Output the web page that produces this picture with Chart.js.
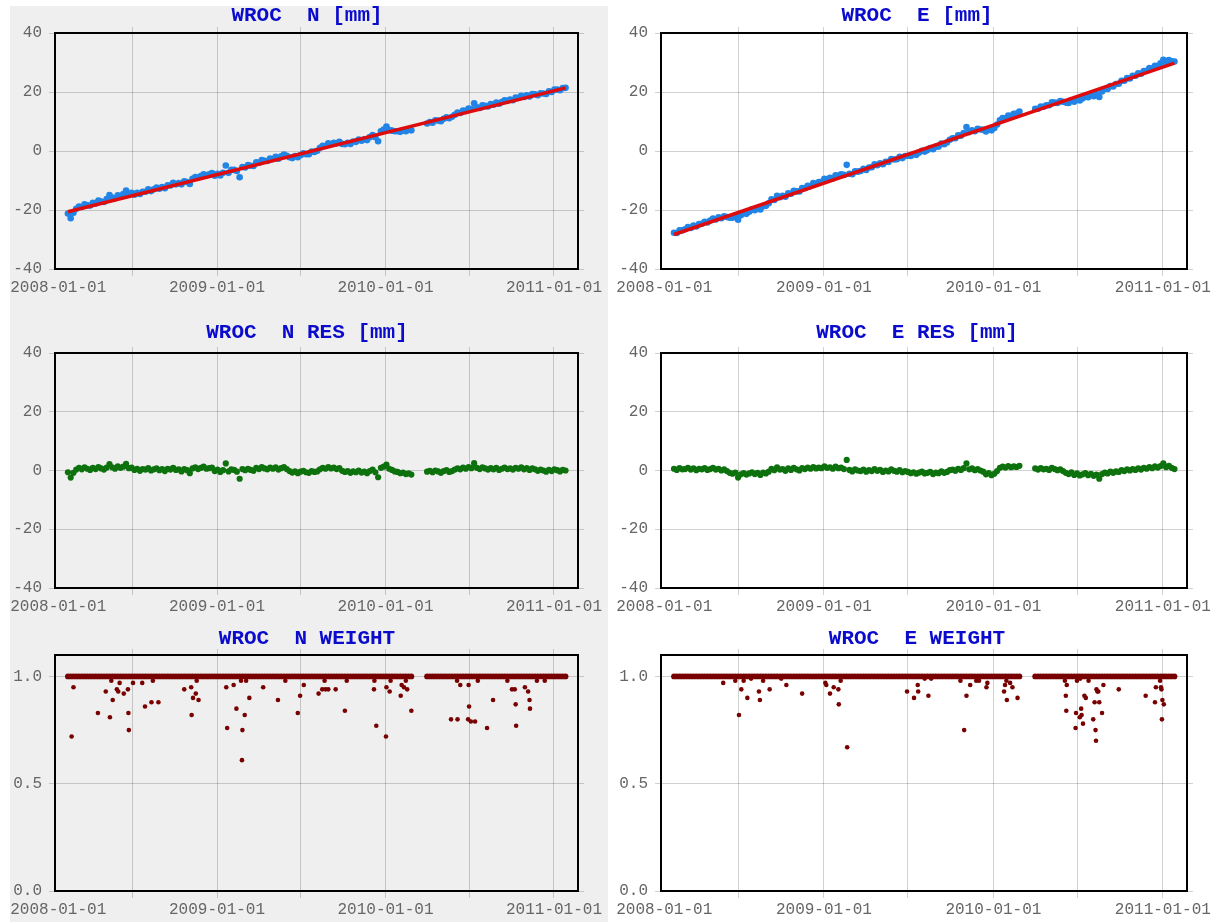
<!DOCTYPE html>
<html>
<head>
<meta charset="utf-8">
<script src="https://cdn.jsdelivr.net/npm/chart.js@4.4.0/dist/chart.umd.min.js"></script>
<style>
  body { margin: 0; background: #fff; width: 1230px; height: 922px; position: relative; overflow: hidden; }
  #leftBg { position: absolute; left: 10px; top: 6px; width: 598px; height: 916px; background: #efefef; }
  canvas { position: absolute; }
</style>
</head>
<body>
<div id="leftBg"></div>
<canvas id="nPos"></canvas>
<canvas id="ePos"></canvas>
<canvas id="nRes"></canvas>
<canvas id="eRes"></canvas>
<canvas id="nWgt"></canvas>
<canvas id="eWgt"></canvas>
<script>
// time axis in days since 2008-01-01, one sample every 6 days, gap in March 2010
const stepDays = 6;
const segStarts = [43, 821];
const xTickDays = [22, 182, 366, 547, 731, 912, 1096];
const xTickLabels = ["2008-01-01", "", "2009-01-01", "", "2010-01-01", "", "2011-01-01"];
const posTicks = [-40, -20, 0, 20, 40];
const weightTicks = [0, 0.5, 1.0];

// N component [mm]
const nPos1 = [
  -21.2, -22.8, -20.9, -19.6, -18.8, -19.0, -18.1, -18.4, -18.5, -17.6,
  -17.8, -16.8, -17.1, -17.3, -16.3, -14.9, -15.8, -16.0, -15.0, -15.3,
  -14.6, -13.4, -14.7, -14.2, -14.8, -14.2, -14.6, -13.8, -13.8, -13.0,
  -13.6, -13.0, -12.4, -12.8, -12.2, -12.6, -11.6, -11.7, -10.8, -11.3,
  -10.9, -11.3, -10.3, -10.5, -11.2, -9.4, -8.8, -9.1, -8.5, -7.9,
  -8.3, -7.9, -7.5, -8.4, -7.7, -8.3, -7.4, -4.9, -7.4, -6.4,
  -6.4, -6.8, -8.9, -5.4, -5.6, -4.8, -5.0, -5.1, -3.8, -4.0,
  -3.1, -3.3, -3.4, -2.6, -2.7, -2.0, -2.6, -1.8, -1.2, -1.6,
  -2.1, -2.4, -1.7, -2.1, -1.4, -0.8, -1.1, -1.1, -0.2, -0.3,
  0.1, 1.1, 1.8, 1.7, 2.6, 2.3, 2.8, 2.6, 3.1, 2.4,
  2.3, 2.8, 2.4, 3.2, 3.1, 3.9, 3.5, 4.0, 3.7, 4.7,
  5.4, 4.7, 3.3, 6.7, 7.3, 8.3, 7.1, 6.9, 6.7, 6.7,
  6.5, 7.0, 6.7, 7.1, 7.0
];
const nPos2 = [
  9.3, 9.8, 9.6, 10.4, 10.3, 10.1, 10.9, 11.4, 11.1, 11.6,
  12.3, 13.0, 12.9, 13.7, 13.6, 14.4, 14.2, 16.2, 14.8, 14.6,
  15.5, 15.3, 15.1, 15.9, 15.7, 16.4, 16.0, 16.6, 17.2, 17.0,
  17.4, 17.2, 18.1, 18.0, 18.7, 18.3, 18.9, 18.5, 19.3, 19.2,
  18.9, 19.6, 19.5, 19.3, 20.2, 20.0, 20.8, 20.8, 20.6, 21.3, 21.4
];
const nFitDays = [43, 1121];
const nFit = [-20.6, 21.4];

const nRes1 = [
  -0.6, -2.4, -0.8, 0.3, 0.9, 0.4, 1.1, 0.6, 0.2, 0.9,
  0.5, 1.2, 0.7, 0.3, 1.0, 2.2, 1.1, 0.6, 1.4, 0.9,
  1.3, 2.3, 0.8, 1.0, 0.2, 0.6, -0.1, 0.5, 0.3, 0.8,
  0.0, 0.4, 0.7, 0.1, 0.5, -0.2, 0.6, 0.3, 0.9, 0.2,
  0.4, -0.3, 0.5, 0.1, -0.9, 0.7, 1.1, 0.5, 0.9, 1.3,
  0.6, 0.8, 1.0, -0.2, 0.3, -0.5, 0.1, 2.4, -0.3, 0.4,
  0.2, -0.4, -2.8, 0.5, 0.1, 0.6, 0.2, -0.1, 0.9, 0.5,
  1.2, 0.7, 0.4, 1.0, 0.6, 1.1, 0.3, 0.8, 1.2, 0.5,
  -0.2, -0.7, -0.3, -0.9, -0.4, -0.1, -0.6, -0.8, -0.2, -0.5,
  -0.3, 0.4, 0.9, 0.6, 1.2, 0.7, 1.0, 0.5, 0.8, -0.1,
  -0.5, -0.2, -0.8, -0.3, -0.6, 0.0, -0.7, -0.4, -0.9, -0.2,
  0.3, -0.6, -2.3, 0.9, 1.3, 2.0, 0.6, 0.2, -0.3, -0.5,
  -0.9, -0.7, -1.2, -1.0, -1.4
];
const nRes2 = [
  -0.4, -0.1, -0.6, 0.0, -0.3, -0.8, -0.2, 0.1, -0.5, -0.2,
  0.3, 0.7, 0.4, 1.0, 0.6, 1.2, 0.8, 2.5, 0.9, 0.5,
  1.1, 0.7, 0.3, 0.8, 0.4, 0.9, 0.2, 0.6, 1.0, 0.5,
  0.7, 0.3, 0.9, 0.6, 1.1, 0.4, 0.8, 0.2, 0.7, 0.4,
  -0.1, 0.3, 0.0, -0.4, 0.2, -0.2, 0.4, 0.1, -0.3, 0.2, 0.0
];

// E component [mm]
const ePos1 = [
  -27.7, -27.8, -26.9, -26.9, -26.5, -25.8, -26.1, -25.3, -25.6, -24.8,
  -24.7, -24.0, -24.2, -23.6, -22.9, -23.2, -22.5, -22.8, -22.1, -22.4,
  -22.6, -22.6, -21.9, -23.3, -21.8, -21.1, -21.3, -20.6, -19.8, -20.1,
  -19.4, -19.8, -18.7, -18.6, -17.7, -16.4, -16.6, -15.2, -15.7, -15.2,
  -15.5, -14.3, -14.5, -13.5, -13.7, -13.7, -12.6, -12.6, -11.8, -11.9,
  -10.9, -11.1, -10.5, -10.4, -9.4, -9.6, -9.1, -9.3, -8.2, -8.4,
  -7.9, -8.1, -4.7, -7.7, -7.9, -6.9, -7.0, -6.8, -6.0, -6.4,
  -5.6, -5.5, -4.5, -4.8, -4.2, -4.5, -3.7, -3.7, -2.7, -2.9,
  -2.8, -2.0, -2.4, -1.7, -1.6, -1.7, -1.1, -1.3, -0.5, 0.1,
  -0.2, 0.3, 1.0, 0.6, 1.4, 1.5, 2.5, 2.3, 2.9, 3.8,
  4.3, 4.3, 5.3, 5.2, 6.1, 8.1, 6.4, 7.0, 6.7, 7.5,
  7.3, 7.2, 6.6, 7.3, 7.0, 7.8, 9.0, 10.4, 11.2, 11.2,
  12.0, 11.9, 12.6, 12.7, 13.4
];
const ePos2 = [
  14.3, 14.3, 15.1, 15.0, 15.5, 15.5, 16.5, 16.4, 16.3, 16.9,
  16.7, 16.4, 16.3, 17.2, 16.7, 17.5, 17.1, 17.8, 18.6, 18.2,
  19.0, 18.6, 19.3, 18.3, 20.2, 21.0, 21.0, 22.0, 21.9, 22.7,
  22.8, 23.8, 23.8, 24.7, 24.6, 25.5, 25.5, 26.3, 26.2, 27.1,
  27.2, 28.1, 28.0, 28.9, 28.9, 29.7, 30.9, 29.9, 30.8, 30.4, 30.3
];
const eFitDays = [43, 1121];
const eFit = [-28.3, 29.8];

const eRes1 = [
  0.6, 0.2, 0.8, 0.4, 0.5, 0.9, 0.3, 0.7, 0.1, 0.6,
  0.4, 0.8, 0.2, 0.5, 0.9, 0.3, 0.6, 0.0, 0.4, -0.2,
  -0.8, -1.1, -0.7, -2.4, -1.3, -0.9, -1.4, -1.0, -0.6, -1.2,
  -0.8, -1.5, -0.7, -1.0, -0.4, 0.6, 0.1, 1.1, 0.3, 0.5,
  -0.1, 0.7, 0.2, 0.9, 0.4, 0.0, 0.8, 0.5, 1.0, 0.6,
  1.2, 0.7, 1.0, 0.8, 1.4, 0.9, 1.1, 0.6, 1.3, 0.8,
  1.0, 0.5, 3.6, 0.2, -0.3, 0.4, 0.0, -0.2, 0.3, -0.4,
  0.1, -0.2, 0.5, -0.1, 0.2, -0.5, 0.0, -0.3, 0.4, -0.1,
  -0.4, 0.1, -0.6, -0.2, -0.5, -0.9, -0.6, -1.1, -0.7, -0.4,
  -1.0, -0.8, -0.5, -1.2, -0.7, -0.9, -0.3, -0.8, -0.5, 0.1,
  0.3, -0.1, 0.6, 0.2, 0.8, 2.4, 0.4, 0.7, 0.1, 0.5,
  0.0, -0.4, -1.3, -0.9, -1.6, -1.1, -0.2, 0.9, 1.3, 1.0,
  1.5, 1.1, 1.4, 1.2, 1.6
];
const eRes2 = [
  0.7, 0.3, 0.8, 0.4, 0.6, 0.2, 0.9, 0.5, 0.1, 0.4,
  -0.2, -0.8, -1.2, -0.6, -1.5, -1.0, -1.7, -1.3, -0.9, -1.6,
  -1.1, -1.8, -1.4, -2.8, -1.2, -0.7, -1.0, -0.4, -0.8, -0.3,
  -0.5, 0.1, -0.2, 0.4, 0.0, 0.5, 0.2, 0.7, 0.3, 0.9,
  0.6, 1.2, 0.8, 1.4, 1.0, 1.5, 2.4, 1.1, 1.6, 0.9, 0.5
];

// weights: regular samples (all 1.0) plus the down-weighted days
const nWeight1 = [
  1,1,1,1,1,1,1,1,1,1,1,1,1,1,1,1,1,1,1,1,1,1,1,1,1,
  1,1,1,1,1,1,1,1,1,1,1,1,1,1,1,1,1,1,1,1,1,1,1,1,1,
  1,1,1,1,1,1,1,1,1,1,1,1,1,1,1,1,1,1,1,1,1,1,1,1,1,
  1,1,1,1,1,1,1,1,1,1,1,1,1,1,1,1,1,1,1,1,1,1,1,1,1,
  1,1,1,1,1,1,1,1,1,1,1,1,1,1,1,1,1,1,1,1,1,1,1,1,1
];
const nWeight2 = [
  1,1,1,1,1,1,1,1,1,1,1,1,1,1,1,1,1,1,1,1,1,1,1,1,1,
  1,1,1,1,1,1,1,1,1,1,1,1,1,1,1,1,1,1,1,1,1,1,1,1,1,1
];
const nLowDays = [
  51, 55, 108, 125, 134, 137, 140, 149, 152, 155, 164, 173, 174, 175, 184, 204, 210, 224, 227, 239,
  295, 310, 311, 314, 320, 322, 326, 386, 388, 402, 408, 418, 420, 421, 426, 429, 436, 466, 498, 514,
  541, 546, 554, 586, 594, 599, 601, 607, 623, 643, 647, 706, 707, 711, 732, 733, 740, 742, 764, 766,
  771, 775, 778, 787, 873, 886, 887, 893, 910, 911, 912, 916, 925, 931, 951, 964, 995, 1005, 1011, 1013,
  1014, 1033, 1040, 1043, 1044, 1059, 1076
];
const nLowWeights = [
  0.72, 0.95, 0.83, 0.93, 0.81, 0.98, 0.89, 0.94, 0.93, 0.97, 0.92, 0.94, 0.83, 0.75, 0.97, 0.97, 0.86, 0.88, 0.98, 0.88,
  0.94, 0.95, 0.82, 0.90, 0.92, 0.98, 0.89, 0.95, 0.76, 0.96, 0.85, 0.98, 0.61, 0.75, 0.82, 0.98, 0.90, 0.95, 0.89, 0.98,
  0.83, 0.91, 0.96, 0.92, 0.94, 0.98, 0.94, 0.94, 0.94, 0.84, 0.98, 0.94, 0.98, 0.77, 0.72, 0.95, 0.93, 0.98, 0.91, 0.96,
  0.95, 0.98, 0.94, 0.84, 0.80, 0.98, 0.80, 0.96, 0.80, 0.96, 0.86, 0.79, 0.79, 0.98, 0.76, 0.89, 0.98, 0.94, 0.94, 0.87,
  0.77, 0.95, 0.93, 0.89, 0.85, 0.98, 0.98
];

const eWeight1 = [
  1,1,1,1,1,1,1,1,1,1,1,1,1,1,1,1,1,1,1,1,1,1,1,1,1,
  1,1,1,1,1,1,1,1,1,1,1,1,1,1,1,1,1,1,1,1,1,1,1,1,1,
  1,1,1,1,1,1,1,1,1,1,1,1,1,1,1,1,1,1,1,1,1,1,1,1,1,
  1,1,1,1,1,1,1,1,1,1,1,1,1,1,1,1,1,1,1,1,1,1,1,1,1,
  1,1,1,1,1,1,1,1,1,1,1,1,1,1,1,1,1,1,1,1,1,1,1,1,1
];
const eWeight2 = [
  1,1,1,1,1,1,1,1,1,1,1,1,1,1,1,1,1,1,1,1,1,1,1,1,1,
  1,1,1,1,1,1,1,1,1,1,1,1,1,1,1,1,1,1,1,1,1,1,1,1,1,1
];
const eLowDays = [
  149, 175, 183, 188, 193, 201, 209, 226, 228, 235, 249, 274, 285, 319, 369, 371, 379, 387, 397, 398,
  402, 416, 545, 560, 568, 569, 583, 591, 597, 660, 668, 673, 681, 694, 700, 716, 718, 754, 756, 759,
  760, 767, 772, 783, 885, 887, 888, 889, 908, 909, 911, 917, 918, 920, 921, 924, 927, 930, 936, 946,
  949, 951, 952, 953, 955, 957, 959, 965, 968, 1001, 1059, 1079, 1081, 1090, 1092, 1093, 1094, 1095, 1098
];
const eLowWeights = [
  0.97, 0.98, 0.82, 0.94, 0.98, 0.90, 0.99, 0.93, 0.89, 0.98, 0.94, 0.99, 0.96, 0.92, 0.97, 0.96, 0.92, 0.95, 0.94, 0.87,
  0.98, 0.67, 0.93, 0.90, 0.96, 0.93, 0.99, 0.91, 0.99, 0.98, 0.75, 0.91, 0.96, 0.98, 0.98, 0.95, 0.97, 0.93, 0.96, 0.98,
  0.89, 0.97, 0.95, 0.90, 0.98, 0.91, 0.84, 0.96, 0.76, 0.83, 0.98, 0.81, 0.99, 0.85, 0.82, 0.78, 0.91, 0.90, 0.98, 0.80,
  0.88, 0.75, 0.70, 0.94, 0.93, 0.93, 0.88, 0.83, 0.96, 0.94, 0.91, 0.88, 0.95, 0.98, 0.95, 0.94, 0.80, 0.89, 0.87
];

const monoFont = "'Liberation Mono', 'DejaVu Sans Mono', monospace";
const gridColor = "rgba(0,0,0,0.18)";
const blue = "#2184e6";
const red = "#de0c0c";
const green = "#0d720d";
const darkRed = "#780000";

function sampled(values, start) {
  return values.map((v, i) => ({ x: start + i * stepDays, y: v }));
}
function series(a, b) {
  return sampled(a, segStarts[0]).concat(sampled(b, segStarts[1]));
}
function pairs(xs, ys) {
  return xs.map((x, i) => ({ x, y: ys[i] }));
}

const cols = {
  left: { x: 6, w: 602, yw: 49, y2w: 30 },
  right: { x: 608, w: 618, yw: 53, y2w: 39 }
};
const rows = [
  { y: 0, h: 300, tp: 5, bp: 1 },
  { y: 300, h: 319, tp: 22, bp: 4 },
  { y: 620, h: 302, tp: 8, bp: 0 }
];

function panel(id, col, row, title, yMin, yMax, yTicks, fmt, datasets) {
  const cv = document.getElementById(id);
  cv.width = col.w;
  cv.height = row.h;
  cv.style.left = col.x + "px";
  cv.style.top = row.y + "px";

  const setX = s => { s.ticks = xTickDays.map(v => ({ value: v })); };
  const setY = s => { s.ticks = yTicks.map(v => ({ value: v })); };
  const xGrid = c => (c.index === 0 ? "rgba(0,0,0,0)" : gridColor);
  const border = { color: "#000", width: 2 };

  new Chart(cv, {
    type: "scatter",
    data: { datasets },
    options: {
      responsive: false,
      animation: false,
      devicePixelRatio: 1,
      layout: { padding: 0 },
      plugins: {
        legend: { display: false },
        tooltip: { enabled: false },
        title: {
          display: true,
          text: title,
          color: "#0b0bcc",
          font: { family: monoFont, size: 21, weight: "bold", lineHeight: 1 },
          padding: { top: row.tp, bottom: row.bp }
        }
      },
      scales: {
        x: {
          type: "linear", position: "bottom", min: 15, max: 1148,
          afterBuildTicks: setX,
          afterFit: s => { s.height = 31; s.paddingLeft = 0; s.paddingRight = 0; },
          ticks: {
            autoSkip: false, maxRotation: 0, padding: 2, color: "#666",
            font: { family: monoFont, size: 16 },
            callback: (v, i) => xTickLabels[i]
          },
          grid: { color: xGrid, tickLength: 7 },
          border
        },
        x2: {
          type: "linear", position: "top", min: 15, max: 1148,
          afterBuildTicks: setX,
          afterFit: s => { s.height = 6; s.paddingLeft = 0; s.paddingRight = 0; },
          ticks: { display: false },
          grid: { color: xGrid, tickLength: 6, drawOnChartArea: false },
          border
        },
        y: {
          type: "linear", position: "left", min: yMin, max: yMax,
          afterBuildTicks: setY,
          afterFit: s => { s.width = col.yw; },
          ticks: {
            padding: 7, color: "#666",
            font: { family: monoFont, size: 16 },
            callback: v => fmt(v)
          },
          grid: { color: gridColor, tickLength: 6 },
          border
        },
        y2: {
          type: "linear", position: "right", min: yMin, max: yMax,
          afterBuildTicks: setY,
          afterFit: s => { s.width = col.y2w; },
          ticks: { display: false },
          grid: { color: gridColor, tickLength: 6, drawOnChartArea: false },
          border
        }
      }
    }
  });
}

const posFmt = v => String(v);
const wFmt = v => v.toFixed(1);

function fitLine(days, vals) {
  return { data: pairs(days, vals), showLine: true, borderColor: red, borderWidth: 3.5, pointRadius: 0 };
}
function dots(data, color, r) {
  return { data, backgroundColor: color, borderWidth: 0, pointRadius: r, showLine: false };
}

panel("nPos", cols.left, rows[0], "WROC  N [mm]", -40, 40, posTicks, posFmt, [
  fitLine(nFitDays, nFit),
  dots(series(nPos1, nPos2), blue, 3.3)
]);
panel("ePos", cols.right, rows[0], "WROC  E [mm]", -40, 40, posTicks, posFmt, [
  fitLine(eFitDays, eFit),
  dots(series(ePos1, ePos2), blue, 3.3)
]);
panel("nRes", cols.left, rows[1], "WROC  N RES [mm]", -40, 40, posTicks, posFmt, [
  dots(series(nRes1, nRes2), green, 3.1)
]);
panel("eRes", cols.right, rows[1], "WROC  E RES [mm]", -40, 40, posTicks, posFmt, [
  dots(series(eRes1, eRes2), green, 3.1)
]);
panel("nWgt", cols.left, rows[2], "WROC  N WEIGHT", 0, 1.1, weightTicks, wFmt, [
  dots(pairs(nLowDays, nLowWeights), darkRed, 2.3),
  dots(series(nWeight1, nWeight2), darkRed, 2.9)
]);
panel("eWgt", cols.right, rows[2], "WROC  E WEIGHT", 0, 1.1, weightTicks, wFmt, [
  dots(pairs(eLowDays, eLowWeights), darkRed, 2.3),
  dots(series(eWeight1, eWeight2), darkRed, 2.9)
]);
</script>
</body>
</html>
